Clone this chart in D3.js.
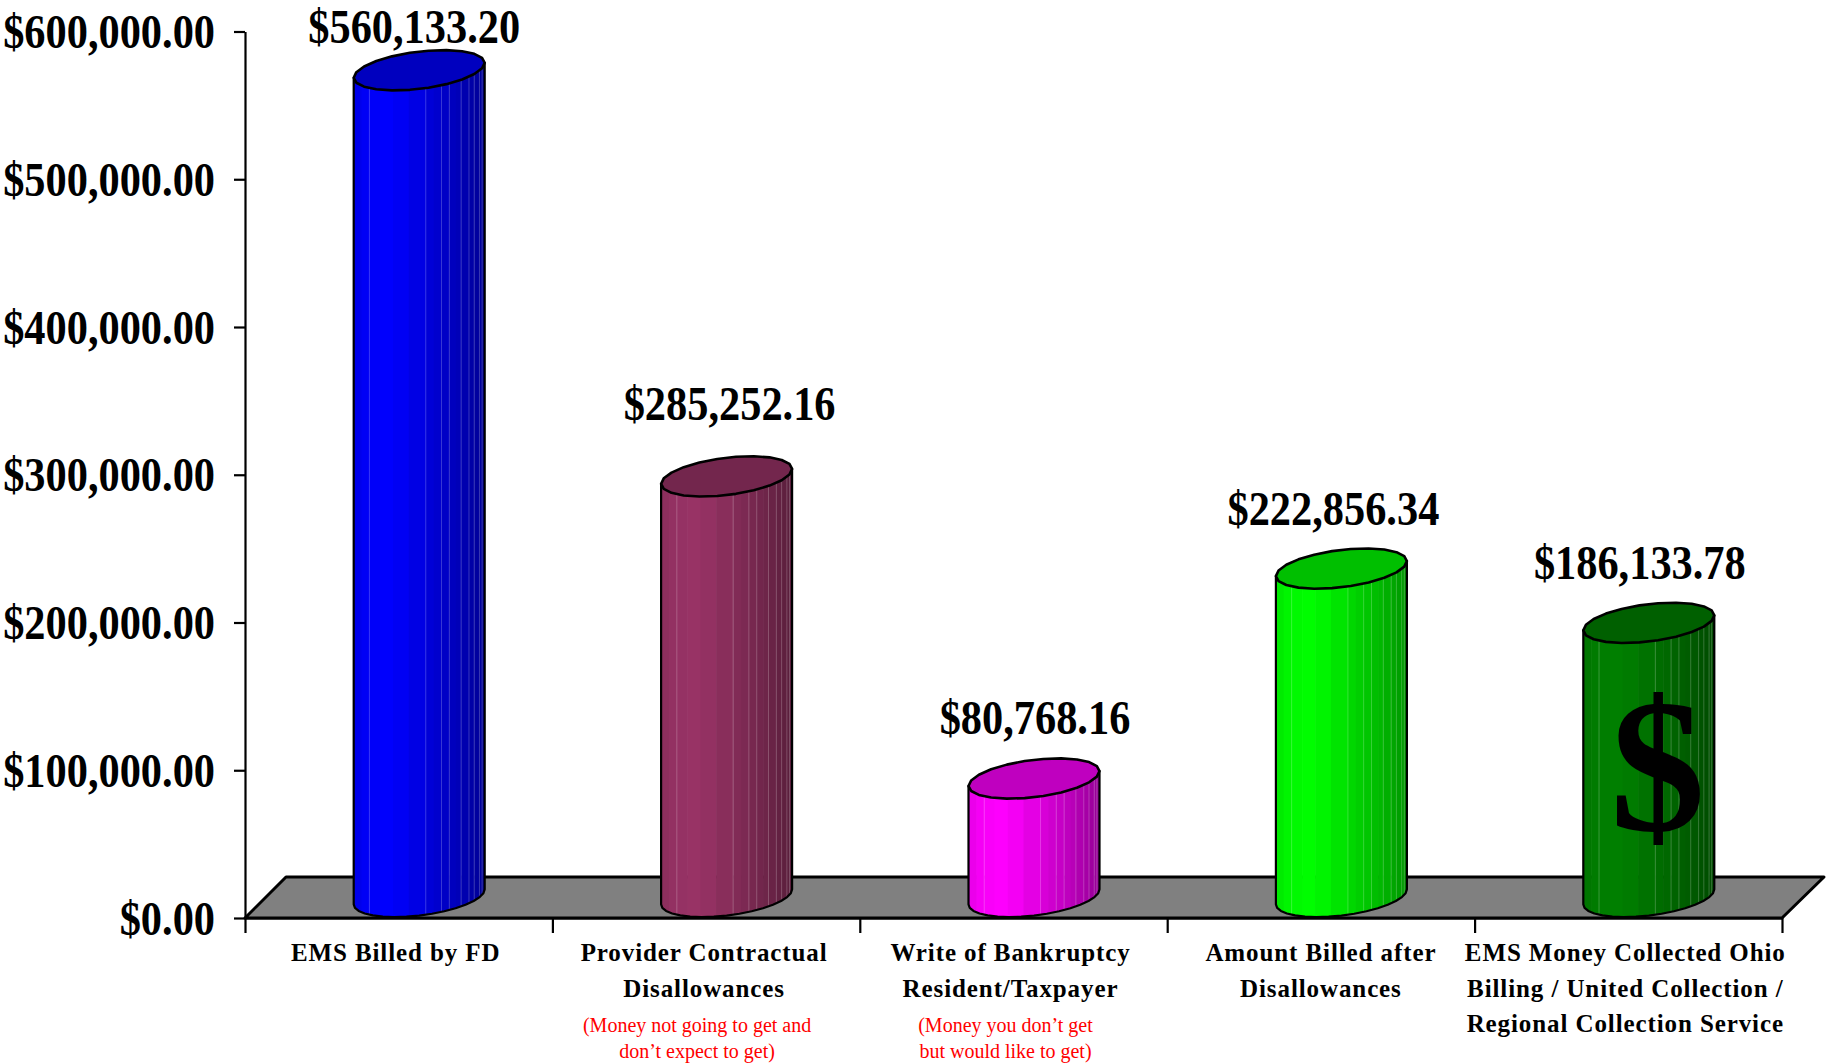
<!DOCTYPE html>
<html><head><meta charset="utf-8">
<script src="https://cdn.jsdelivr.net/npm/d3@7"></script>
<style>
html,body{margin:0;padding:0;background:#fff}
svg{display:block}
text{font-family:"Liberation Serif",serif;fill:#000}
</style></head><body>
<svg id="c" width="1830" height="1063"></svg>
<script>
const categories=["EMS Billed by FD","Provider Contractual|Disallowances","Write of Bankruptcy|Resident/Taxpayer","Amount Billed after|Disallowances","EMS Money Collected Ohio|Billing / United Collection /|Regional Collection Service"];
const values=[560133.20,285252.16,80768.16,222856.34,186133.78];
const valueLabels=["$560,133.20","$285,252.16","$80,768.16","$222,856.34","$186,133.78"];
const notes=["","(Money not going to get and|don’t expect to get)","(Money you don’t get|but would like to get)","",""];
const bodyColors=["#0000ff","#993366","#ff00ff","#00ff00","#008000"];
const yTicks=[0,100000,200000,300000,400000,500000,600000];
const labelNudge=[-5,3,1,-8,-9];
const catNudge=[-3,-2,-3,0,-3];
const noteNudge=[0,-9,-8,0,0];
const stripStops=[0,.06,.12,.2,.3,.42,.55,.61,.67,.73,.78,.82,.88,.92,.96,.98,1];
const seamStops=[.12,.55,.67,.73,.82,.88,.92,.96,.98];

const svg=d3.select("#c");
const x=d3.scaleBand().domain(d3.range(categories.length)).range([245,1782]).padding(0);
const xEdge=d3.scaleLinear().domain([0,categories.length]).range([245,1782]);
const y=d3.scaleLinear().domain([0,600000]).range([918,31.5]);
const money=d3.format("$,.2f");
const depthX=41, depthY=41;
const barW=131, a=barW/2, shear=7.5, ry=18.7, extent=Math.hypot(ry,shear), barShift=20.5;

// floor
svg.append("path").attr("d",d3.line()([
 [x.range()[0],y(0)],[x.range()[0]+depthX,y(0)-depthY],[x.range()[1]+depthX+1,y(0)-depthY],[x.range()[1],y(0)]
])+"Z").attr("fill","#808080").attr("stroke","#000").attr("stroke-width",3).attr("stroke-linejoin","round");

// axes
const yAxis=svg.append("g").attr("transform",`translate(245,0)`).call(
 d3.axisLeft(y).tickValues(yTicks).tickFormat(money).tickSize(11).tickSizeOuter(0));
yAxis.selectAll("path,line").attr("stroke","#000").attr("stroke-width",2.2);
yAxis.selectAll("text").attr("x",null).attr("dy",null)
 .attr("text-anchor","end").attr("font-size",49).attr("font-weight","bold")
 .attr("font-family",'"Liberation Serif",serif')
 .attr("transform","translate(-30,16) scale(.865,1)");
const xAxis=svg.append("g").attr("transform",`translate(0,${y(0)})`).call(
 d3.axisBottom(xEdge).tickValues(d3.range(categories.length+1)).tickFormat("").tickSize(15).tickSizeOuter(0));
xAxis.selectAll("path,line").attr("stroke","#000").attr("stroke-width",2.2);

// one jagged sheared ellipse outline
const ringPts=(cx,cy,from,to,n)=>d3.range(n+1).map(i=>{
  const t=from+(to-from)*i/n;
  return [cx+a*Math.cos(t), cy+ry*Math.sin(t)-shear*Math.cos(t)];
});
const line=d3.line();
const defs=svg.append("defs");

values.forEach((v,i)=>{
  const cx=x(i)+x.bandwidth()/2+barShift;
  const topCy=y(v)-extent, botCy=y(0)-1-extent;
  const base=d3.color(bodyColors[i]);
  const shade=d3.scaleLinear().domain([0,.08,.28,.55,.8,1])
    .range([.9,.96,1,.86,.72,.58]);
  const shadeColor=f=>{const k=shade(f);return d3.rgb(base.r*k,base.g*k,base.b*k).formatHex();};
  const front=ringPts(cx,botCy,Math.PI,0,16);
  const body=[[cx-a,topCy+shear],...front,[cx+a,topCy-shear]];
  const id="clip"+i;
  defs.append("clipPath").attr("id",id).append("path").attr("d",line(body)+"Z");
  const g=svg.append("g");
  const sg=g.append("g").attr("clip-path",`url(#${id})`);
  const left=cx-a;
  sg.selectAll("rect").data(d3.pairs(stripStops)).join("rect")
    .attr("x",d=>left+d[0]*barW).attr("width",d=>(d[1]-d[0])*barW+.6)
    .attr("y",y(v)-60).attr("height",y(0)-y(v)+70)
    .attr("fill",d=>shadeColor((d[0]+d[1])/2));
  sg.selectAll("line.seam").data(seamStops).join("line").attr("class","seam")
    .attr("x1",d=>left+d*barW).attr("x2",d=>left+d*barW)
    .attr("y1",y(v)-60).attr("y2",y(0)+5)
    .attr("stroke","#fff").attr("stroke-opacity",.22).attr("stroke-width",1);
  g.append("path").attr("d",line(body)+"Z").attr("fill","none").attr("stroke","#000").attr("stroke-width",2.2).attr("stroke-linejoin","round");
  const k=.75;
  g.append("path").attr("d",line(ringPts(cx,topCy,0,2*Math.PI,22))+"Z")
    .attr("fill",d3.rgb(base.r*k,base.g*k,base.b*k).formatHex())
    .attr("stroke","#000").attr("stroke-width",2.6).attr("stroke-linejoin","round");
  // value label
  svg.append("text").attr("transform",`translate(${cx+labelNudge[i]},${y(v)-(i==0?47:i==1?77:i==2?65:i==3?64:64)}) scale(.865,1)`)
    .attr("text-anchor","middle").attr("font-size",49).attr("font-weight","bold").text(valueLabels[i]);
  // category label
  categories[i].split("|").forEach((s,j)=>{
    svg.append("text").attr("x",x(i)+x.bandwidth()/2+catNudge[i]).attr("y",961+j*35.7)
      .attr("text-anchor","middle").attr("font-size",25).attr("font-weight","bold")
      .attr("letter-spacing",.9).text(s);
  });
  if(notes[i]) notes[i].split("|").forEach((s,j)=>{
    svg.append("text").attr("x",x(i)+x.bandwidth()/2+noteNudge[i]).attr("y",1032+j*26)
      .attr("text-anchor","middle").attr("font-size",20).style("fill","#ff0000").text(s);
  });
});
// big dollar sign on last bar
svg.append("text").attr("x",x(4)+x.bandwidth()/2+barShift+9).attr("y",y(values[4]*.32))
  .attr("text-anchor","middle").attr("font-size",190).attr("font-weight","bold").text("$");
</script></body></html>
